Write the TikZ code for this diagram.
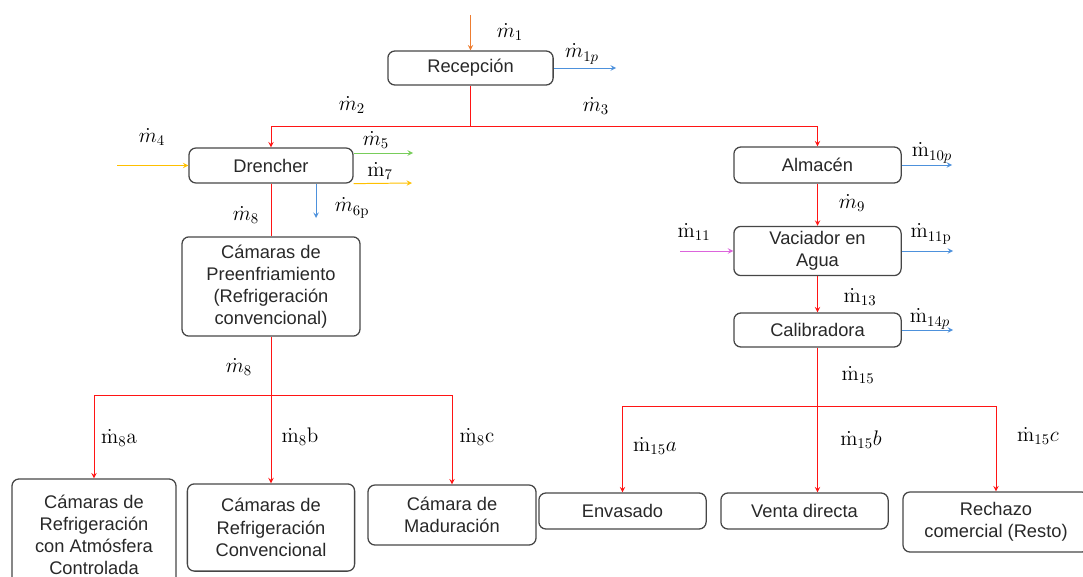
\RequirePackage{fix-cm}
\documentclass[tikz,border=0pt]{standalone}
\usepackage[no-math]{fontspec}
\setmainfont{Liberation Sans}
\definecolor{redflow}{RGB}{255,20,20}
\definecolor{orangeflow}{RGB}{237,125,49}
\definecolor{blueflow}{RGB}{77,145,220}
\definecolor{greenflow}{RGB}{120,205,90}
\definecolor{yellowflow}{RGB}{255,192,0}
\definecolor{pinkflow}{RGB}{220,100,220}
\definecolor{boxgray}{RGB}{70,70,70}
\definecolor{txtgray}{RGB}{40,40,40}
\begin{document}
\begin{tikzpicture}[x=0.025cm, y=-0.025cm, >=stealth,
  box/.style={draw=boxgray, line width=0.9pt, rounded corners=5pt, align=center, text=txtgray, inner sep=2pt, font=\fontsize{13}{15.8}\selectfont},
  lbl/.style={font=\fontsize{15}{18}\selectfont},
  flow/.style={->, line width=0.7pt}]
\useasboundingbox (0,0) rectangle (1083,577);
\clip (0,0) rectangle (1083,577);
% process boxes
\node[box, minimum width=4.13cm, minimum height=0.85cm] (rec) at (470.5,68) {Recepción};
\node[box, minimum width=4.1cm, minimum height=0.875cm] (dre) at (271,165.5) {Drencher};
\node[box, minimum width=4.45cm, minimum height=2.48cm] (pre) at (271,286.5) {Cámaras de\\Preenfriamiento\\(Refrigeración\\convencional)};
\node[box, minimum width=4.18cm, minimum height=0.9cm] (alm) at (817.5,165) {Almacén};
\node[box, minimum width=4.18cm, minimum height=1.23cm] (vac) at (817.5,251) {Vaciador en\\Agua};
\node[box, minimum width=4.18cm, minimum height=0.85cm] (cal) at (817.5,330) {Calibradora};
% final destinations
\node[box, minimum width=4.1cm, minimum height=2.8cm] (cra) at (94,535) {Cámaras de\\Refrigeración\\con Atmósfera\\Controlada};
\node[box, minimum width=4.18cm, minimum height=2.18cm] (crc) at (271,527.5) {Cámaras de\\Refrigeración\\Convencional};
\node[box, minimum width=4.2cm, minimum height=1.5cm] (mad) at (452,515) {Cámara de\\Maduración};
\node[box, minimum width=4.18cm, minimum height=0.9cm] (env) at (622.5,511) {Envasado};
\node[box, minimum width=4.18cm, minimum height=0.9cm] (ven) at (804.5,511) {Venta directa};
\node[box, minimum width=4.65cm, minimum height=1.5cm] (rej) at (996,522) {Rechazo\\comercial (Resto)};
% free ends and junctions
\coordinate (in1) at (470.5,15);
\coordinate (out1p) at (616,68);
\coordinate (jr) at (470.5,126);
\coordinate (in4) at (117,165.5);
\coordinate (out5) at (413,153);
\coordinate (out7) at (412,183);
\coordinate (out6p) at (316,218);
\coordinate (jl) at (271,395);
\coordinate (out10p) at (952,165);
\coordinate (in11) at (680,251);
\coordinate (out11p) at (953,251);
\coordinate (out14p) at (953,330);
\coordinate (jb) at (817.5,406);
% flows
\draw[flow, orangeflow] (in1) -- (rec);
\draw[flow, blueflow] (rec) -- (out1p);
\draw[line width=0.7pt, redflow] (rec) -- (jr);
\draw[flow, redflow] (jr) -| (dre);
\draw[flow, redflow] (jr) -| (alm);
\draw[flow, yellowflow] (in4) -- (dre);
\draw[flow, greenflow] (dre.east |- out5) -- (out5);
\draw[flow, yellowflow] (dre.south east) -- (out7);
\draw[flow, blueflow] (dre.south -| out6p) -- (out6p);
\draw[line width=0.7pt, redflow] (dre) -- (pre);
\draw[line width=0.7pt, redflow] (pre) -- (jl);
\draw[flow, redflow] (jl) -| (cra);
\draw[flow, redflow] (jl) -- (crc);
\draw[flow, redflow] (jl) -| (mad);
\draw[flow, redflow] (alm) -- (vac);
\draw[flow, redflow] (vac) -- (cal);
\draw[flow, blueflow] (alm) -- (out10p);
\draw[flow, pinkflow] (in11) -- (vac);
\draw[flow, blueflow] (vac) -- (out11p);
\draw[flow, blueflow] (cal) -- (out14p);
\draw[flow, redflow] (cal.south) -- (cal.south |- ven.north);
\draw[flow, redflow] (jb) -| (env);
\draw[flow, redflow] (jb) -| (rej);
% flow labels
\node[lbl] (l1) at (510,32) {$\dot m_1$};
\node[lbl] (l1p) at (582,54) {$\dot m_{1p}$};
\node[lbl] (l2) at (352,105) {$\dot m_2$};
\node[lbl] (l3) at (596,106) {$\dot m_3$};
\node[lbl] (l4) at (152,137) {$\dot m_4$};
\node[lbl] (l5) at (376,140) {$\dot m_5$};
\node[lbl] (l7) at (380,171) {$\dot{\mathrm m}_7$};
\node[lbl] (l6p) at (352,208) {$\dot m_{\mathrm{6p}}$};
\node[lbl] (l8) at (246,215) {$\dot m_8$};
\node[lbl] (l8b) at (239,367) {$\dot m_8$};
\node[lbl] (l8a) at (119,438) {$\dot{\mathrm m}_8\mathrm{a}$};
\node[lbl] (l8bb) at (300,437) {$\dot{\mathrm m}_8\mathrm{b}$};
\node[lbl] (l8c) at (477,437) {$\dot{\mathrm m}_8\mathrm{c}$};
\node[lbl] (l9) at (852,203) {$\dot m_9$};
\node[lbl] (l10p) at (932,153) {$\dot{\mathrm m}_{10p}$};
\node[lbl] (l11) at (694,232) {$\dot{\mathrm m}_{11}$};
\node[lbl] (l11p) at (931,234) {$\dot{\mathrm m}_{\mathrm{11p}}$};
\node[lbl] (l13) at (860,297) {$\dot{\mathrm m}_{13}$};
\node[lbl] (l14p) at (930,319) {$\dot{\mathrm m}_{14p}$};
\node[lbl] (l15) at (858,375) {$\dot{\mathrm m}_{15}$};
\node[lbl] (l15a) at (655,446) {$\dot{\mathrm m}_{15}a$};
\node[lbl] (l15b) at (861,440) {$\dot{\mathrm m}_{15}b$};
\node[lbl] (l15c) at (1038,436) {$\dot{\mathrm m}_{15}c$};
\end{tikzpicture}
\end{document}
